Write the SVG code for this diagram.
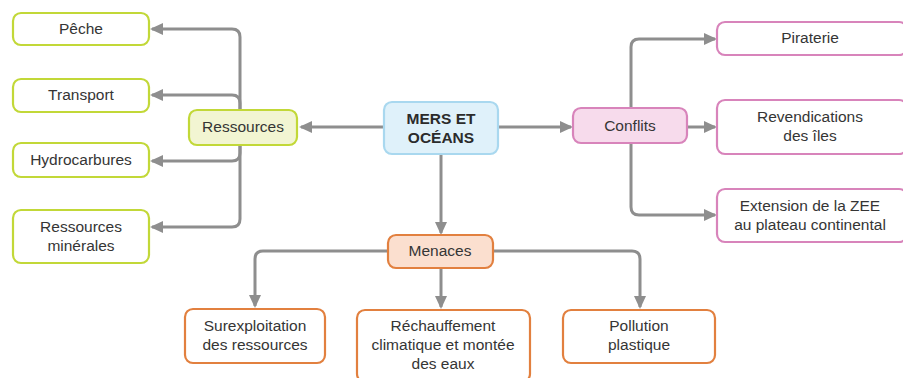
<svg xmlns="http://www.w3.org/2000/svg" width="903" height="378" viewBox="0 0 903 378">
<style>
.g{fill:#ffffff;stroke:#c2d838;stroke-width:2.2}
.gf{fill:#f2f5d2;stroke:#c2d838;stroke-width:2.2}
.b{fill:#dff1fa;stroke:#a9d8ef;stroke-width:2.2}
.p{fill:#ffffff;stroke:#d884bb;stroke-width:2.2}
.pf{fill:#f7dbec;stroke:#d884bb;stroke-width:2.2}
.o{fill:#ffffff;stroke:#e2803f;stroke-width:2.2}
.of{fill:#fbdfcf;stroke:#e2803f;stroke-width:2.2}
text{font-family:"Liberation Sans",Arial,sans-serif;font-size:15.5px;fill:#353535;text-anchor:middle}
.bold{font-weight:bold;fill:#2b2b2b}
.c path{fill:none;stroke:#8e8e8e;stroke-width:3;marker-end:url(#ah)}
</style>
<defs>
<marker id="ah" markerUnits="userSpaceOnUse" markerWidth="14" markerHeight="14" viewBox="0 0 14 14" refX="11" refY="7" orient="auto">
<path d="M0,1 L13,7 L0,13 z" fill="#8e8e8e"/>
</marker>
</defs>
<rect width="903" height="378" fill="#ffffff"/>
<g class="c" id="connectors">
<path d="M240,110 V37 Q240,29 232,29 H152"/>
<path d="M240,110 V103 Q240,95 232,95 H152"/>
<path d="M240,145 V153 Q240,161 232,161 H152"/>
<path d="M240,145 V219 Q240,227 232,227 H152"/>
<path d="M384,127 H301"/>
<path d="M498,127 H571"/>
<path d="M441,154 V233"/>
<path d="M631,108 V47 Q631,39 639,39 H715"/>
<path d="M687,127 H715"/>
<path d="M631,143 V207 Q631,215 639,215 H715"/>
<path d="M388,251 H263 Q255,251 255,259 V306"/>
<path d="M441,268 V307"/>
<path d="M493,251 H632 Q640,251 640,259 V307"/>
</g>
<g id="peche"><rect class="g" x="13" y="13" width="136" height="32" rx="8"/><text x="81" y="34">Pêche</text></g>
<g id="transport"><rect class="g" x="13" y="79" width="136" height="33" rx="8"/><text x="81" y="100">Transport</text></g>
<g id="hydrocarbures"><rect class="g" x="13" y="143" width="136" height="34" rx="8"/><text x="81" y="165">Hydrocarbures</text></g>
<g id="mineraux"><rect class="g" x="13" y="210" width="136" height="53" rx="8"/><text x="81" y="232">Ressources</text><text x="81" y="251">minérales</text></g>
<g id="ressources"><rect class="gf" x="189" y="110" width="108" height="35" rx="8"/><text x="243" y="132">Ressources</text></g>
<g id="mers"><rect class="b" x="384" y="102" width="114" height="52" rx="8"/><text class="bold" x="441" y="124">MERS ET</text><text class="bold" x="441" y="143">OCÉANS</text></g>
<g id="conflits"><rect class="pf" x="573" y="108" width="114" height="35" rx="8"/><text x="630" y="131">Conflits</text></g>
<g id="piraterie"><rect class="p" x="717" y="22" width="190" height="33" rx="8"/><text x="810" y="43">Piraterie</text></g>
<g id="revendications"><rect class="p" x="717" y="100" width="190" height="54" rx="8"/><text x="810" y="122">Revendications</text><text x="810" y="141">des îles</text></g>
<g id="extension"><rect class="p" x="717" y="189" width="190" height="53" rx="8"/><text x="810" y="211">Extension de la ZEE</text><text x="810" y="230">au plateau continental</text></g>
<g id="menaces"><rect class="of" x="388" y="235" width="105" height="33" rx="8"/><text x="440" y="256">Menaces</text></g>
<g id="surexploitation"><rect class="o" x="185" y="309" width="140" height="54" rx="8"/><text x="255" y="331">Surexploitation</text><text x="255" y="350">des ressources</text></g>
<g id="rechauffement"><rect class="o" x="357" y="310" width="173" height="72" rx="8"/><text x="443" y="331">Réchauffement</text><text x="443" y="350">climatique et montée</text><text x="443" y="369">des eaux</text></g>
<g id="pollution"><rect class="o" x="563" y="310" width="152" height="53" rx="8"/><text x="639" y="331">Pollution</text><text x="639" y="350">plastique</text></g>
</svg>
